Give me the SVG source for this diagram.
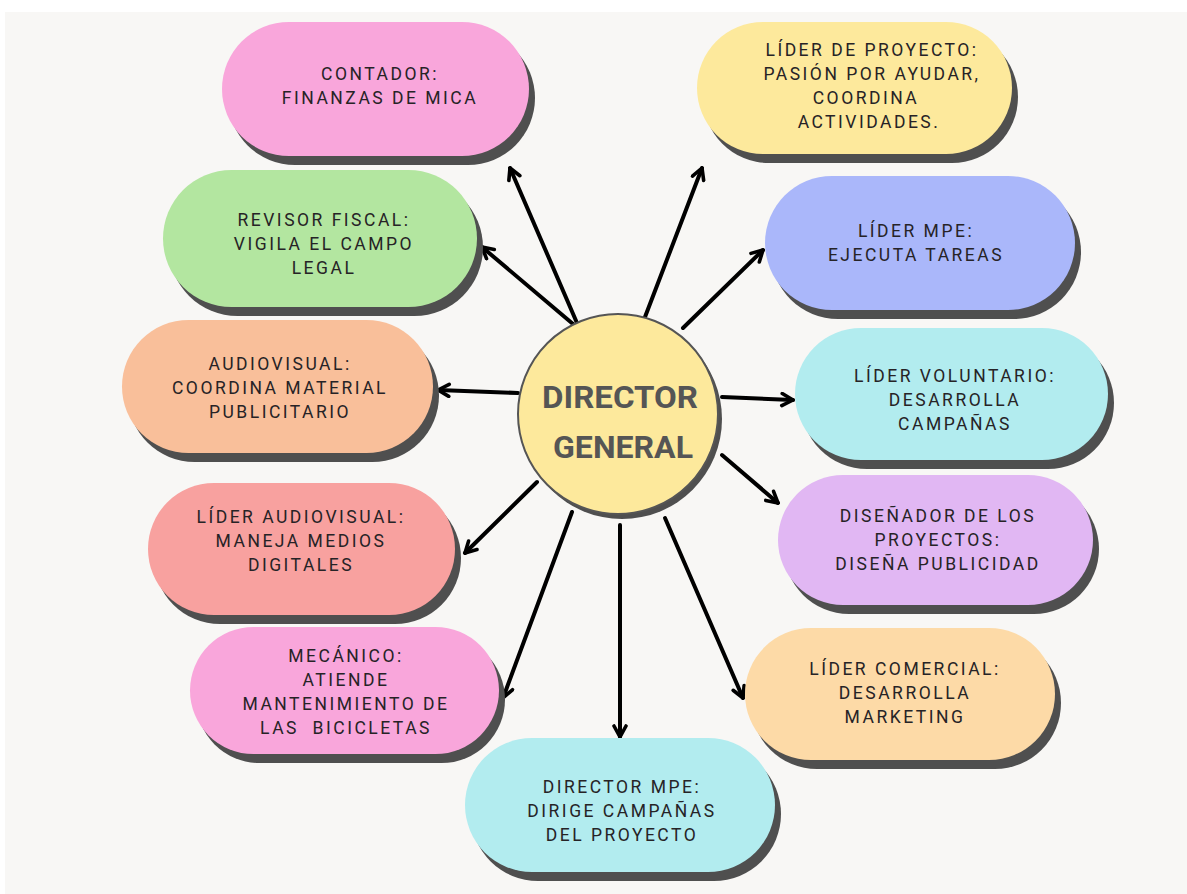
<svg xmlns="http://www.w3.org/2000/svg" width="1187" height="894" viewBox="0 0 1187 894">
<defs>
<style>
.sh{fill:#4f4f4f}
.t{font-family:Roboto,"Liberation Sans",sans-serif;font-size:17.5px;letter-spacing:2.5px;fill:#262326;text-anchor:middle}
.c{fill:none;stroke:#000;stroke-width:4;stroke-linecap:round}
.ct{font-family:Roboto,"Liberation Sans",sans-serif;font-weight:bold;font-size:32px;fill:#555;text-anchor:middle}
</style>
<marker id="ah" viewBox="0 0 16 16" refX="14" refY="8" markerWidth="16" markerHeight="16" markerUnits="userSpaceOnUse" orient="auto">
<path d="M3,2 L14,8 L3,14" fill="none" stroke="#000" stroke-width="3.6" stroke-linecap="round" stroke-linejoin="round"/>
</marker>
</defs>
<rect width="1187" height="894" fill="#fff"/>
<rect x="5" y="12" width="1182" height="882" fill="#f8f7f5"/>

<g id="connectors">
<line class="c" x1="577" y1="323" x2="510" y2="168" marker-end="url(#ah)"/>
<line class="c" x1="645" y1="317" x2="702" y2="168" marker-end="url(#ah)"/>
<line class="c" x1="573" y1="324" x2="482" y2="247" marker-end="url(#ah)"/>
<line class="c" x1="683" y1="328" x2="763" y2="250" marker-end="url(#ah)"/>
<line class="c" x1="518" y1="393" x2="438" y2="390" marker-end="url(#ah)"/>
<line class="c" x1="722" y1="397" x2="793" y2="400" marker-end="url(#ah)"/>
<line class="c" x1="722" y1="455" x2="778" y2="503" marker-end="url(#ah)"/>
<line class="c" x1="537" y1="482" x2="465" y2="553" marker-end="url(#ah)"/>
<line class="c" x1="572" y1="512" x2="503" y2="698" marker-end="url(#ah)"/>
<line class="c" x1="620" y1="525" x2="620" y2="737" marker-end="url(#ah)"/>
<line class="c" x1="665" y1="518" x2="743" y2="698" marker-end="url(#ah)"/>
</g>

<g id="director-general">
<circle class="sh" cx="622" cy="419" r="100"/>
<circle cx="618" cy="414" r="100" fill="#fde99c" stroke="#555" stroke-width="2"/>
<text class="ct" x="620" y="408" textLength="156" lengthAdjust="spacingAndGlyphs">DIRECTOR</text>
<text class="ct" x="623" y="458" textLength="140" lengthAdjust="spacingAndGlyphs">GENERAL</text>
</g>

<g id="contador">
<rect class="sh" x="228" y="31" width="307" height="134" rx="67"/>
<rect x="222" y="22" width="307" height="134" rx="67" fill="#f9a6db"/>
<text class="t" x="380" y="80">CONTADOR:</text>
<text class="t" x="380" y="104">FINANZAS DE MICA</text>
</g>

<g id="lider-proyecto">
<rect class="sh" x="703" y="31" width="315" height="132" rx="66"/>
<rect x="697" y="22" width="315" height="132" rx="66" fill="#fde99c"/>
<text class="t" x="872" y="56">LÍDER DE PROYECTO:</text>
<text class="t" x="872" y="80">PASIÓN POR AYUDAR,</text>
<text class="t" x="866" y="104">COORDINA</text>
<text class="t" x="869" y="128">ACTIVIDADES.</text>
</g>

<g id="revisor-fiscal">
<rect class="sh" x="169" y="179" width="314" height="137" rx="68.5"/>
<rect x="163" y="170" width="314" height="137" rx="68.5" fill="#b3e6a0"/>
<text class="t" x="324" y="226">REVISOR FISCAL:</text>
<text class="t" x="324" y="250">VIGILA EL CAMPO</text>
<text class="t" x="324" y="274">LEGAL</text>
</g>

<g id="audiovisual">
<rect class="sh" x="128" y="329" width="311" height="133" rx="66.5"/>
<rect x="122" y="320" width="311" height="133" rx="66.5" fill="#f9bf9a"/>
<text class="t" x="280" y="370">AUDIOVISUAL:</text>
<text class="t" x="280" y="394">COORDINA MATERIAL</text>
<text class="t" x="280" y="418">PUBLICITARIO</text>
</g>

<g id="lider-audiovisual">
<rect class="sh" x="154" y="492" width="307" height="132" rx="66"/>
<rect x="148" y="483" width="307" height="132" rx="66" fill="#f8a19f"/>
<text class="t" x="301" y="523">LÍDER AUDIOVISUAL:</text>
<text class="t" x="301" y="547">MANEJA MEDIOS</text>
<text class="t" x="301" y="571">DIGITALES</text>
</g>

<g id="mecanico">
<rect class="sh" x="196" y="636" width="309" height="127" rx="63.5"/>
<rect x="190" y="627" width="309" height="127" rx="63.5" fill="#f9a6db"/>
<text class="t" x="346" y="662">MECÁNICO:</text>
<text class="t" x="346" y="686">ATIENDE</text>
<text class="t" x="346" y="710">MANTENIMIENTO DE</text>
<text class="t" x="346" y="734">LAS&#160; BICICLETAS</text>
</g>

<g id="director-mpe">
<rect class="sh" x="471" y="747" width="310" height="134" rx="67"/>
<rect x="465" y="738" width="310" height="134" rx="67" fill="#b2ecef"/>
<text class="t" x="622" y="793">DIRECTOR MPE:</text>
<text class="t" x="622" y="817">DIRIGE CAMPAÑAS</text>
<text class="t" x="622" y="841">DEL PROYECTO</text>
</g>

<g id="lider-mpe">
<rect class="sh" x="771" y="185" width="310" height="134" rx="67"/>
<rect x="765" y="176" width="310" height="134" rx="67" fill="#aab7fa"/>
<text class="t" x="916" y="237">LÍDER MPE:</text>
<text class="t" x="916" y="261">EJECUTA TAREAS</text>
</g>

<g id="lider-voluntario">
<rect class="sh" x="801" y="337" width="313" height="132" rx="66"/>
<rect x="795" y="328" width="313" height="132" rx="66" fill="#b2ecef"/>
<text class="t" x="955" y="382">LÍDER VOLUNTARIO:</text>
<text class="t" x="955" y="406">DESARROLLA</text>
<text class="t" x="955" y="430">CAMPAÑAS</text>
</g>

<g id="disenador">
<rect class="sh" x="784" y="484" width="315" height="130" rx="65"/>
<rect x="778" y="475" width="315" height="130" rx="65" fill="#e1b7f3"/>
<text class="t" x="938" y="522">DISEÑADOR DE LOS</text>
<text class="t" x="938" y="546">PROYECTOS:</text>
<text class="t" x="938" y="570">DISEÑA PUBLICIDAD</text>
</g>

<g id="lider-comercial">
<rect class="sh" x="751" y="637" width="310" height="132" rx="66"/>
<rect x="745" y="628" width="310" height="132" rx="66" fill="#fddaa7"/>
<text class="t" x="905" y="675">LÍDER COMERCIAL:</text>
<text class="t" x="905" y="699">DESARROLLA</text>
<text class="t" x="905" y="723">MARKETING</text>
</g>
</svg>
